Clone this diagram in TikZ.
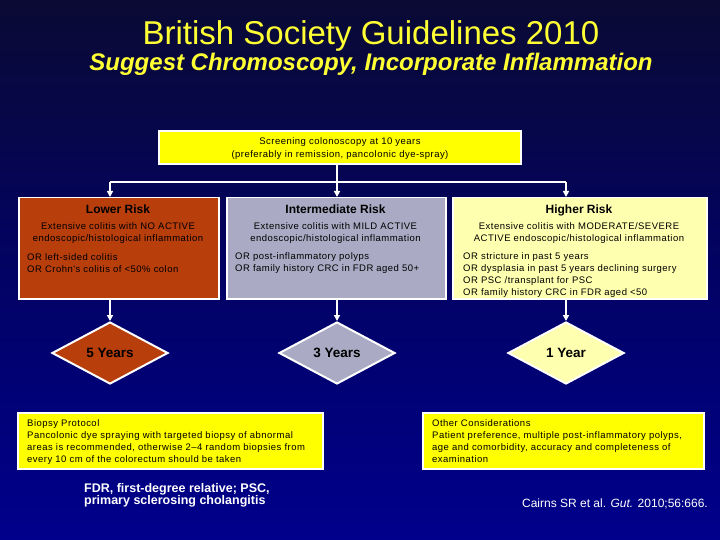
\documentclass[tikz,border=0pt]{standalone}
\usepackage{fontspec}
\setmainfont{Liberation Sans}
\newfontfamily\boxfont[LetterSpace=5]{Liberation Sans}
\usetikzlibrary{shapes.geometric,arrows.meta}
\definecolor{bgtop}{RGB}{10,10,52}
\definecolor{bgmid}{RGB}{2,2,100}
\definecolor{bgbot}{RGB}{0,0,140}
\definecolor{lowc}{RGB}{184,62,12}
\definecolor{midc}{RGB}{170,170,196}
\definecolor{highc}{RGB}{255,255,176}
\definecolor{ylw}{RGB}{255,255,0}
\definecolor{ttl}{RGB}{255,255,51}
\begin{document}
\begin{tikzpicture}[x=1pt,y=-1pt,
  box/.style={draw=white, line width=1.5pt, inner sep=0pt},
  conn/.style={draw=white, line width=1.8pt},
  arr/.style={conn, -{Triangle[width=6pt,length=6pt]}},
  txt/.style={inner sep=0pt, text=black, font=\boxfont\fontsize{9.5}{12}\selectfont},
  hd/.style={inner sep=0pt, text=black, font=\fontsize{12}{14}\selectfont\bfseries},
  dia/.style={diamond, draw=white, line width=2pt, inner sep=0pt, aspect=1.87,
     minimum width=116pt, minimum height=62pt, font=\fontsize{13.5}{15}\selectfont\bfseries, text=black}
]
\shade[top color=bgtop, bottom color=bgbot, middle color=bgmid] (0,0) rectangle (720,540);
\useasboundingbox (0,0) rectangle (720,540);

% titles
\node[text=ttl, inner sep=0pt, font=\fontsize{33}{36}\selectfont] (title) at (371,36) {British Society Guidelines 2010};
\node[text=ttl, inner sep=0pt, font=\fontsize{24}{26}\selectfont\bfseries\itshape] (sub) at (371,64) {Suggest Chromoscopy, Incorporate Inflammation};

% top box
\node[box, fill=ylw, minimum width=362pt, minimum height=33pt] (top) at (340,147.5) {};
\node[txt, anchor=base] (top1) at (340,145) {Screening colonoscopy at 10 years};
\node[txt, anchor=base] (top2) at (340,157.5) {(preferably in remission, pancolonic dye-spray)};

% risk boxes
\node[box, fill=lowc, minimum width=200pt, minimum height=101pt, anchor=north west] (low) at (18,197) {};
\node[box, fill=midc, minimum width=219pt, minimum height=101pt, anchor=north west] (mid) at (226,197) {};
\node[box, fill=highc, minimum width=254pt, minimum height=101pt, anchor=north west] (high) at (452,197) {};

% connectors from top
\coordinate (j) at (337,182);
\coordinate (jl) at (110,182);
\coordinate (jr) at (566,182);
\draw[conn] (top.south -| j) -- (j);
\draw[conn] (jl) -- (jr);
\draw[arr] (jl) -- (jl |- low.north);
\draw[arr] (j) -- (j |- mid.north);
\draw[arr] (jr) -- (jr |- high.north);

% lower risk text
\node[hd, anchor=base] (lowh) at (118,214) {Lower Risk};
\node[txt, anchor=base] (low1) at (118,229.5) {Extensive colitis with NO ACTIVE};
\node[txt, anchor=base] (low2) at (118,241.5) {endoscopic/histological inflammation};
\node[txt, anchor=base west] (low3) at (27,260.5) {OR left-sided colitis};
\node[txt, anchor=base west] (low4) at (27,272.5) {OR Crohn's colitis of <50\% colon};

% intermediate risk text
\node[hd, anchor=base] (midh) at (335.5,214) {Intermediate Risk};
\node[txt, anchor=base] (mid1) at (335.5,229.5) {Extensive colitis with MILD ACTIVE};
\node[txt, anchor=base] (mid2) at (335.5,241.5) {endoscopic/histological inflammation};
\node[txt, anchor=base west] (mid3) at (235,259.5) {OR post-inflammatory polyps};
\node[txt, anchor=base west] (mid4) at (235,271.5) {OR family history CRC in FDR aged 50+};

% higher risk text
\node[hd, anchor=base] (highh) at (579,214) {Higher Risk};
\node[txt, anchor=base] (high1) at (579,229.5) {Extensive colitis with MODERATE/SEVERE};
\node[txt, anchor=base] (high2) at (579,241.5) {ACTIVE endoscopic/histological inflammation};
\node[txt, anchor=base west] (high3) at (463,259.5) {OR stricture in past 5 years};
\node[txt, anchor=base west] (high4) at (463,271.5) {OR dysplasia in past 5 years declining surgery};
\node[txt, anchor=base west] (high5) at (463,283.5) {OR PSC /transplant for PSC};
\node[txt, anchor=base west] (high6) at (463,295.5) {OR family history CRC in FDR aged <50};

% diamonds
\node[dia, fill=lowc] (d1) at (110,353) {5 Years};
\node[dia, fill=midc] (d2) at (337,353) {3 Years};
\node[dia, fill=highc] (d3) at (566,353) {1 Year};
\draw[arr] (d1.north |- low.south) -- (d1.north);
\draw[arr] (d2.north |- mid.south) -- (d2.north);
\draw[arr] (d3.north |- high.south) -- (d3.north);

% bottom boxes
\node[box, fill=ylw, minimum width=305pt, minimum height=56pt, anchor=north west] (bio) at (17,412) {};
\node[txt, anchor=base west] (bio1) at (27,426.5) {Biopsy Protocol};
\node[txt, anchor=base west] (bio2) at (27,438.5) {Pancolonic dye spraying with targeted biopsy of abnormal};
\node[txt, anchor=base west] (bio3) at (27,450.5) {areas is recommended, otherwise 2–4 random biopsies from};
\node[txt, anchor=base west] (bio4) at (27,462.5) {every 10 cm of the colorectum should be taken};

\node[box, fill=ylw, minimum width=281pt, minimum height=56pt, anchor=north west] (oth) at (422,412) {};
\node[txt, anchor=base west] (oth1) at (432,426.5) {Other Considerations};
\node[txt, anchor=base west] (oth2) at (432,438.5) {Patient preference, multiple post-inflammatory polyps,};
\node[txt, anchor=base west] (oth3) at (432,450.5) {age and comorbidity, accuracy and completeness of};
\node[txt, anchor=base west] (oth4) at (432,462.5) {examination};

% footer
\node[inner sep=0pt, text=white, anchor=base west, font=\fontsize{12.5}{14}\selectfont\bfseries] (fdr1) at (84,492.5) {FDR, first-degree relative; PSC,};
\node[inner sep=0pt, text=white, anchor=base west, font=\fontsize{12.5}{14}\selectfont\bfseries] (fdr2) at (84,504) {primary sclerosing cholangitis};
\node[inner sep=0pt, text=white, anchor=base east, font=\fontsize{12}{14}\selectfont] (cite) at (708,507.5) {Cairns SR et al. \textit{Gut.} 2010;56:666.};
\end{tikzpicture}
\end{document}
